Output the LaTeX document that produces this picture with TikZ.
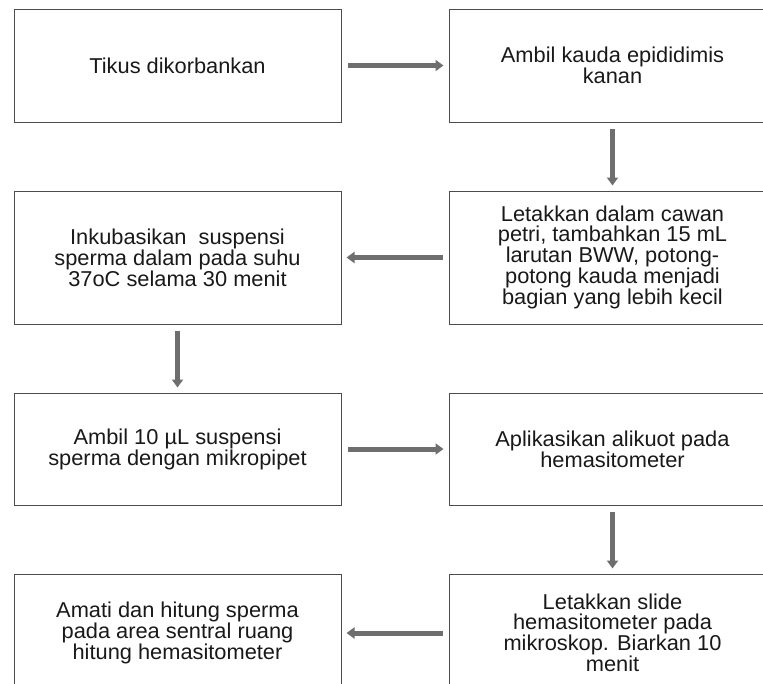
\documentclass[tikz,border=0pt]{standalone}
\usepackage{fontspec}
\setmainfont[FakeStretch=1.015]{Liberation Sans}
\usetikzlibrary{positioning,arrows.meta}
\definecolor{abu}{HTML}{6E6E6E}

\begin{document}
\begin{tikzpicture}[
    x=1pt, y=1pt,
    node distance=68pt and 107pt,
    langkah/.style={draw=black!70, line width=1pt, fill=white, minimum width=327pt,
        align=center, text=black!90, font=\fontsize{21.5pt}{19.8pt}\selectfont},
    panah/.style={draw=abu, line width=5pt, -{Triangle[length=8pt,width=11pt]},
        shorten <=6pt, shorten >=5pt},
    ]
    \clip (0,0) rectangle (763,-683);
    \fill[white] (0,0) rectangle (763,-683);

    % baris 1
    \node[langkah, minimum height=113pt] (tikus) at (177.5,-65.5) {Tikus dikorbankan};
    \node[langkah, minimum height=113pt, right=of tikus] (kauda) {Ambil kauda epididimis\\kanan};

    % baris 2
    \node[langkah, minimum height=133pt, below=of tikus] (inkubasi) {Inkubasikan\ \ suspensi\\sperma dalam pada suhu\\37oC selama 30 menit};
    \node[langkah, minimum height=133pt, right=of inkubasi] (cawan) {Letakkan dalam cawan\\petri, tambahkan 15 mL\\larutan BWW, potong-\\potong kauda menjadi\\bagian yang lebih kecil};

    % baris 3
    \node[langkah, minimum height=112pt, below=of inkubasi] (pipet) {Ambil 10 µL suspensi\\sperma dengan mikropipet};
    \node[langkah, minimum height=112pt, right=of pipet] (alikuot) {Aplikasikan alikuot pada\\hemasitometer};

    % baris 4
    \node[langkah, minimum height=118pt, below=of pipet] (amati) {Amati dan hitung sperma\\pada area sentral ruang\\hitung hemasitometer};
    \node[langkah, minimum height=118pt, right=of amati] (slide) {Letakkan slide\\hemasitometer pada\\mikroskop. Biarkan 10\\menit};

    \draw[panah] (tikus) -- (kauda);
    \draw[panah] (kauda) -- (cawan);
    \draw[panah] (cawan) -- (inkubasi);
    \draw[panah] (inkubasi) -- (pipet);
    \draw[panah] (pipet) -- (alikuot);
    \draw[panah] (alikuot) -- (slide);
    \draw[panah] (slide) -- (amati);
\end{tikzpicture}
\end{document}
